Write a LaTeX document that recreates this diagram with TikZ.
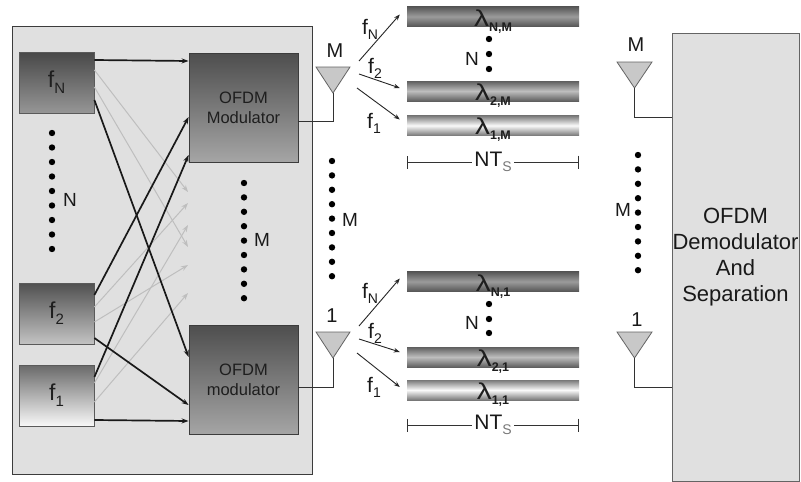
\documentclass[tikz,border=0pt]{standalone}
\usepackage{fontspec}
\setmainfont{Liberation Sans}
\usetikzlibrary{arrows.meta,calc}
\definecolor{panel}{RGB}{224,224,224}
\definecolor{panedge}{RGB}{60,60,60}
\definecolor{boxedge}{RGB}{90,90,90}
\definecolor{modtop}{RGB}{78,78,78}
\definecolor{modbot}{RGB}{165,165,165}
\definecolor{textdark}{RGB}{30,30,30}
\definecolor{arrgray}{RGB}{190,190,190}
\definecolor{antfill}{RGB}{200,200,200}
\definecolor{antedge}{RGB}{100,100,100}
\definecolor{wire}{RGB}{50,50,50}
\definecolor{subgray}{RGB}{120,120,120}
\newcommand\dsub[3]{\raisebox{-#1pt}{\fontsize{#2}{#2}\selectfont #3}}
\newcommand\lamlab[1]{{\fontsize{23}{23}\selectfont\scalebox{1.3}[1]{λ}}\dsub{5}{12.5}{\bfseries #1}}
\tikzset{
 panelbox/.style={draw=panedge, line width=0.9pt, fill=panel, inner sep=0pt},
 fbox/.style={draw=boxedge, line width=0.8pt, minimum width=75pt, minimum height=61pt, inner sep=0pt, text=textdark, font=\fontsize{23}{23}\selectfont},
 modbox/.style={draw=panedge, line width=0.8pt, minimum width=109pt, minimum height=109pt, inner sep=0pt, top color=modtop, bottom color=modbot, align=center, font=\fontsize{16.5}{20}\selectfont, text=textdark},
 barbox/.style={minimum width=172pt, minimum height=20pt, inner sep=0pt},
 barlab/.style={anchor=base, text=textdark, inner sep=0pt},
 blk/.style={-{Stealth[length=7pt,width=5pt]}, line width=1.7pt, color=black!90},
 gry/.style={-{Stealth[length=7pt,width=5pt]}, line width=1pt, color=arrgray},
 radarr/.style={-{Stealth[length=6pt,width=4.5pt]}, line width=0.9pt, color=black!85},
 ant/.style={fill=antfill, draw=antedge, line width=0.8pt},
 wireline/.style={draw=wire, line width=0.8pt},
 lab/.style={font=\fontsize{20}{20}\selectfont, inner sep=0pt, text=black!90},
 flab/.style={font=\fontsize{21}{21}\selectfont, inner sep=0pt, text=black!90},
 dlab/.style={font=\fontsize{19}{19}\selectfont, inner sep=0pt, text=black!90},
}
\begin{document}
\begin{tikzpicture}[x=1pt,y=-1pt]
\useasboundingbox (0,0) rectangle (801,482);
\fill[white] (0,0) rectangle (801,482);

% left panel
\node[panelbox, minimum width=300pt, minimum height=448pt] (panel) at (162,250) {};

% frequency boxes
\node[fbox, top color={rgb,255:red,72;green,72;blue,72}, bottom color={rgb,255:red,150;green,150;blue,150}] (fN) at (56.5,82.5) {f\dsub{6}{15}{N}};
\node[fbox, top color={rgb,255:red,80;green,80;blue,80}, bottom color={rgb,255:red,195;green,195;blue,195}] (f2) at (56.5,313.5) {f\dsub{6}{15}{2}};
\node[fbox, top color={rgb,255:red,105;green,105;blue,105}, bottom color={rgb,255:red,248;green,248;blue,248}] (f1) at (56.5,395.5) {f\dsub{6}{15}{1}};

% modulators
\node[modbox] (modM) at (243.5,107.5) {OFDM\\Modulator};
\node[modbox] (modm) at (243.5,379.5) {OFDM\\modulator};

% gray arrows (free ends)
\coordinate (g1) at (188,192);
\coordinate (g2) at (188,247);
\coordinate (g3) at (188,203);
\coordinate (g4) at (188,265);
\coordinate (g5) at (188,225);
\coordinate (g6) at (188,293);
\draw[gry] (fN.east |- 0,70) -- (g1);
\draw[gry] (fN.east |- 0,87) -- (g2);
\draw[gry] (f2.east |- 0,307) -- (g3);
\draw[gry] (f2.east |- 0,322) -- (g4);
\draw[gry] (f1.east |- 0,383) -- (g5);
\draw[gry] (f1.east |- 0,402) -- (g6);

% black arrows
\draw[blk] (fN.east |- 0,60) -- (modM.west |- 0,61);
\draw[blk] (fN.east |- 0,100) -- (modm.west |- 0,357);
\draw[blk] (f2.east |- 0,295) -- (modM.west |- 0,117);
\draw[blk] (f2.east |- 0,338) -- (modm.west |- 0,405);
\draw[blk] (f1.east |- 0,377) -- (modM.west |- 0,155);
\draw[blk] (f1.east |- 0,420) -- (modm.west |- 0,421);

% dots in left panel
\foreach \i in {0,...,8} \fill (52,133+\i*14.5) circle (3.2);
\node[dlab] (nlab) at (70,200) {N};
\foreach \i in {0,...,8} \fill (244,183+\i*14.4) circle (3.2);
\node[dlab] (mlab1) at (262,240) {M};

% transmit antennas
\path[ant] (316,67) -- (350,67) -- (333,93) -- cycle;
\coordinate (antM) at (333,93);
\coordinate (antMfoot) at (333,121);
\draw[wireline] (modM.east |- antMfoot) -- (antMfoot) -- (antM);
\node[lab] (antMlab) at (335,51) {M};

\path[ant] (316,332) -- (350,332) -- (333,358) -- cycle;
\coordinate (ant1) at (333,358);
\coordinate (ant1foot) at (333,387);
\draw[wireline] (modm.east |- ant1foot) -- (ant1foot) -- (ant1);
\node[lab] (ant1lab) at (332,316) {1};

\foreach \i in {0,...,8} \fill (332,161+\i*14.4) circle (3.2);
\node[dlab] (mlab2) at (350,220) {M};

% wavelength bars, top group
\node[barbox, top color={rgb,255:red,85;green,85;blue,85}, bottom color={rgb,255:red,85;green,85;blue,85}, middle color={rgb,255:red,155;green,155;blue,155}] (bNM) at (493,16.5) {};
\node[barbox, top color={rgb,255:red,95;green,95;blue,95}, bottom color={rgb,255:red,95;green,95;blue,95}, middle color={rgb,255:red,190;green,190;blue,190}] (b2M) at (493,91) {};
\node[barbox, top color={rgb,255:red,120;green,120;blue,120}, bottom color={rgb,255:red,120;green,120;blue,120}, middle color={rgb,255:red,250;green,250;blue,250}] (b1M) at (493,125.5) {};
\node[barlab] (lNM) at (493,26) {\lamlab{N,M}};
\node[barlab] (l2M) at (493,100) {\lamlab{2,M}};
\node[barlab] (l1M) at (493,134) {\lamlab{1,M}};
\foreach \yy in {39,54,69} \fill (489,\yy) circle (3.2);
\node[dlab] (ntop) at (472,59) {N};

% wavelength bars, bottom group
\node[barbox, top color={rgb,255:red,85;green,85;blue,85}, bottom color={rgb,255:red,85;green,85;blue,85}, middle color={rgb,255:red,155;green,155;blue,155}] (bN1) at (493,281.5) {};
\node[barbox, top color={rgb,255:red,95;green,95;blue,95}, bottom color={rgb,255:red,95;green,95;blue,95}, middle color={rgb,255:red,190;green,190;blue,190}] (b21) at (493,357) {};
\node[barbox, top color={rgb,255:red,120;green,120;blue,120}, bottom color={rgb,255:red,120;green,120;blue,120}, middle color={rgb,255:red,250;green,250;blue,250}] (b11) at (493,390) {};
\node[barlab] (lN1) at (493,291) {\lamlab{N,1}};
\node[barlab] (l21) at (493,366) {\lamlab{2,1}};
\node[barlab] (l11) at (493,399) {\lamlab{1,1}};
\foreach \yy in {304,319,333} \fill (489,\yy) circle (3.2);
\node[dlab] (nbot) at (472,323) {N};

% radiated arrows, top
\coordinate (tN) at (359,61);
\coordinate (t2) at (359,74);
\coordinate (t1) at (357,88);
\draw[radarr] (tN) -- ($(bNM.west)+(-7,-2)$);
\draw[radarr] (t2) -- ($(b2M.west)+(-7,-3)$);
\draw[radarr] (t1) -- ($(b1M.west)+(-7,-6)$);
\node[flab] (tfN) at (370,29) {f\dsub{5}{14}{N}};
\node[flab] (tf2) at (375,68) {f\dsub{5}{14}{2}};
\node[flab] (tf1) at (374,123) {f\dsub{5}{14}{1}};

% radiated arrows, bottom
\coordinate (bN) at (359,326);
\coordinate (b2) at (359,339);
\coordinate (b1) at (357,353);
\draw[radarr] (bN) -- ($(bN1.west)+(-7,-3)$);
\draw[radarr] (b2) -- ($(b21.west)+(-7,-5)$);
\draw[radarr] (b1) -- ($(b11.west)+(-7,-3)$);
\node[flab] (bfN) at (370,293) {f\dsub{5}{14}{N}};
\node[flab] (bf2) at (375,333) {f\dsub{5}{14}{2}};
\node[flab] (bf1) at (374,387) {f\dsub{5}{14}{1}};

% NT_S spans
\coordinate (s1a) at (407,162);
\coordinate (s1b) at (579,162);
\draw[{Bar[width=13pt]}-{Bar[width=13pt]}, line width=0.7pt, color=black!80] (s1a) -- (s1b)
  node[midway, fill=white, inner xsep=2pt, inner ysep=0pt, font=\fontsize{21}{21}\selectfont, text=black!90] (nts1) {NT\dsub{5}{14}{\textcolor{subgray}{S}}};
\coordinate (s2a) at (407,425);
\coordinate (s2b) at (579,425);
\draw[{Bar[width=13pt]}-{Bar[width=13pt]}, line width=0.7pt, color=black!80] (s2a) -- (s2b)
  node[midway, fill=white, inner xsep=2pt, inner ysep=0pt, font=\fontsize{21}{21}\selectfont, text=black!90] (nts2) {NT\dsub{5}{14}{\textcolor{subgray}{S}}};

% receiver
\node[draw=antedge, line width=0.9pt, fill=panel, minimum width=127pt, minimum height=448pt, inner sep=0pt, align=center, font=\fontsize{22}{26}\selectfont, text=black!90] (demod) at (735.5,257) {OFDM\\Demodulator\\And\\Separation};

\path[ant] (617,62) -- (652,62) -- (634.5,88) -- cycle;
\coordinate (rantM) at (634.5,88);
\coordinate (rantMfoot) at (634.5,117);
\draw[wireline] (rantM) -- (rantMfoot) -- (demod.west |- rantMfoot);
\node[lab] (rMlab) at (636,45) {M};

\path[ant] (617,332) -- (652,332) -- (634.5,358) -- cycle;
\coordinate (rant1) at (634.5,358);
\coordinate (rant1foot) at (634.5,387);
\draw[wireline] (rant1) -- (rant1foot) -- (demod.west |- rant1foot);
\node[lab] (r1lab) at (637,320) {1};

\foreach \i in {0,...,8} \fill (638,155+\i*14.4) circle (3.2);
\node[dlab] (mlab3) at (623,210) {M};
\end{tikzpicture}
\end{document}
